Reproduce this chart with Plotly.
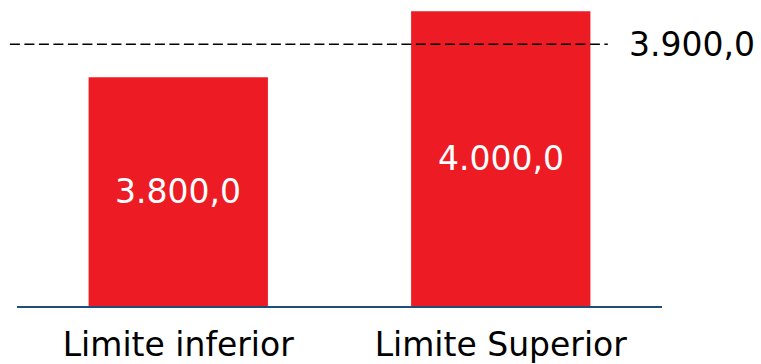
import plotly.graph_objects as go

categories = ["Limite inferior", "Limite Superior"]
values = [3800.0, 4000.0]
reference_value = 3900.0
reference_label = "3.900,0"

RED = "#ED1C24"
FONT = "DejaVu Sans"
Y_RANGE = [3108, 4034]

fig = go.Figure()
fig.add_trace(go.Bar(
    x=categories,
    y=values,
    marker=dict(color=RED, line=dict(width=0)),
    width=0.556,
    hoverinfo="skip",
))

# value labels centred in the visible part of each bar
for cat, val in zip(categories, values):
    fig.add_annotation(
        x=cat, y=(Y_RANGE[0] + val) / 2, xref="x", yref="y",
        text=f"{val:,.1f}".replace(",", "X").replace(".", ",").replace("X", "."),
        showarrow=False, xanchor="center", yanchor="middle",
        font=dict(size=33, color="white", family=FONT),
    )

fig.add_shape(
    type="line", xref="paper", yref="y",
    x0=-0.011, x1=0.916, y0=reference_value, y1=reference_value,
    line=dict(color="black", width=1.5, dash="10px,4.5px"),
    layer="above",
)
fig.add_annotation(
    xref="paper", yref="y", x=0.946, y=reference_value,
    text=reference_label, showarrow=False,
    xanchor="left", yanchor="middle",
    font=dict(size=33, color="black", family=FONT),
)

fig.update_layout(
    width=761, height=364,
    margin=dict(l=17, r=99, t=0, b=58),
    paper_bgcolor="white", plot_bgcolor="white",
    separators=",.",
    showlegend=False,
    font=dict(family=FONT, color="black"),
    xaxis=dict(
        range=[-0.5, 1.5],
        showline=True, linecolor="#1F4E79", linewidth=2,
        showgrid=False, zeroline=False,
        ticks="outside", ticklen=8, tickcolor="rgba(0,0,0,0)",
        tickfont=dict(size=33, color="black", family=FONT),
    ),
    yaxis=dict(
        range=Y_RANGE, visible=False, showgrid=False, zeroline=False,
    ),
)

fig.write_html("out.html")
